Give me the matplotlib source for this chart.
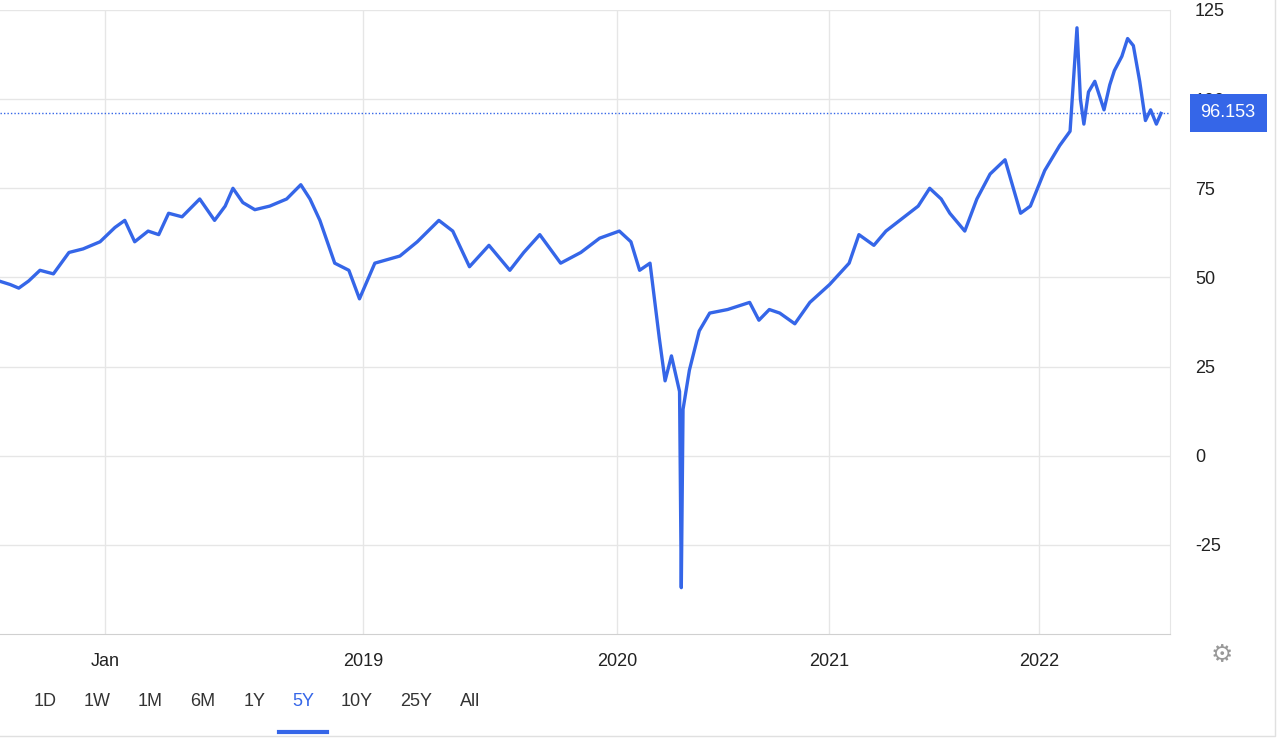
import numpy as np
import matplotlib
matplotlib.use("Agg")
import matplotlib.pyplot as plt
import matplotlib.dates as mdates
from datetime import datetime

plt.rcParams['font.family'] = ['Liberation Sans', 'DejaVu Sans']

# price series
dates = ["2017-08-04", "2017-08-20", "2017-09-01", "2017-09-15", "2017-10-01", "2017-10-20",
         "2017-11-11", "2017-12-01", "2017-12-25", "2018-01-15", "2018-01-29", "2018-02-12",
         "2018-03-03", "2018-03-18", "2018-04-01", "2018-04-20", "2018-05-15", "2018-06-05",
         "2018-06-20", "2018-07-01", "2018-07-15", "2018-08-01", "2018-08-22", "2018-09-15",
         "2018-10-05", "2018-10-18", "2018-11-01", "2018-11-22", "2018-12-12", "2018-12-27",
         "2019-01-18", "2019-02-23", "2019-03-20", "2019-04-20", "2019-05-10", "2019-06-03",
         "2019-07-01", "2019-07-31", "2019-08-20", "2019-09-12", "2019-10-12", "2019-11-10",
         "2019-12-07", "2020-01-05", "2020-01-25", "2020-02-09", "2020-02-27", "2020-03-14",
         "2020-03-24", "2020-04-04", "2020-04-18", "2020-04-21", "2020-04-24", "2020-05-05",
         "2020-05-22", "2020-06-09", "2020-07-10", "2020-08-17", "2020-09-02", "2020-09-20",
         "2020-10-08", "2020-11-03", "2020-11-29", "2021-01-02", "2021-02-05", "2021-02-22",
         "2021-03-20", "2021-04-10", "2021-05-04", "2021-06-05", "2021-06-25", "2021-07-15",
         "2021-07-30", "2021-08-25", "2021-09-15", "2021-10-08", "2021-11-03", "2021-11-30",
         "2021-12-17", "2022-01-11", "2022-02-06", "2022-02-24", "2022-03-08", "2022-03-14",
         "2022-03-20", "2022-03-28", "2022-04-08", "2022-04-24", "2022-05-04", "2022-05-12",
         "2022-05-25", "2022-06-04", "2022-06-14", "2022-06-25", "2022-07-05", "2022-07-14",
         "2022-07-24", "2022-08-01"]
prices = [49, 48, 47, 49, 52, 51,
          57, 58, 60, 64, 66, 60,
          63, 62, 68, 67, 72, 66,
          70, 75, 71, 69, 70, 72,
          76, 72, 66, 54, 52, 44,
          54, 56, 60, 66, 63, 53,
          59, 52, 57, 62, 54, 57,
          61, 63, 60, 52, 54, 33,
          21, 28, 18, -37, 13, 24,
          35, 40, 41, 43, 38, 41,
          40, 37, 43, 48, 54, 62,
          59, 63, 66, 70, 75, 72,
          68, 63, 72, 79, 83, 68,
          70, 80, 87, 91, 120, 100,
          93, 102, 105, 97, 104, 108,
          112, 117, 115, 105, 94, 97,
          93, 96]
last_price = 96.153

# tick years and their screen positions in the reference (uneven spacing)
tick_labels = ["Jan", "2019", "2020", "2021", "2022"]
tick_dates = ["2018-01-01", "2019-01-01", "2020-01-01", "2021-01-01", "2022-01-01"]
tick_px = [105, 363, 617, 829, 1039]

d = np.array([mdates.date2num(datetime.fromisoformat(s)) for s in dates])
td = np.array([mdates.date2num(datetime.fromisoformat(s)) for s in tick_dates])

def fwd(x):
    x = np.asarray(x, dtype=float)
    lo = tick_px[0] + (x - td[0]) * (tick_px[1] - tick_px[0]) / (td[1] - td[0])
    hi = tick_px[-1] + (x - td[-1]) * (tick_px[-1] - tick_px[-2]) / (td[-1] - td[-2])
    mid = np.interp(x, td, tick_px)
    return np.where(x < td[0], lo, np.where(x > td[-1], hi, mid))

def inv(p):
    p = np.asarray(p, dtype=float)
    lo = td[0] + (p - tick_px[0]) * (td[1] - td[0]) / (tick_px[1] - tick_px[0])
    hi = td[-1] + (p - tick_px[-1]) * (td[-1] - td[-2]) / (tick_px[-1] - tick_px[-2])
    mid = np.interp(p, tick_px, td)
    return np.where(p < tick_px[0], lo, np.where(p > tick_px[-1], hi, mid))

W, H = 1280, 740
fig = plt.figure(figsize=(W / 100, H / 100), dpi=100)
ax = fig.add_axes([0, 1 - 634 / H, 1170 / W, 624 / H])
ax.set_xscale("function", functions=(fwd, inv))
ax.plot(d, prices, color="#3566e8", lw=2.4, solid_joinstyle="round")
ax.set_xlim(inv(0), inv(1170))
ax.set_ylim(-50, 125)

ax.set_xticks(td)
ax.set_xticklabels(tick_labels, fontsize=13, color="#222222")
ax.set_yticks([-25, 0, 25, 50, 75, 100, 125])
ax.yaxis.tick_right()
ax.set_yticklabels(["-25", "0", "25", "50", "75", "100", "125"], fontsize=13, color="#222222")
ax.tick_params(axis="y", length=0, pad=18)
ax.tick_params(axis="x", length=0, pad=14)
ax.grid(True, color="#e6e6e6", lw=1)
for s in ["top", "left"]:
    ax.spines[s].set_visible(False)
ax.spines["right"].set_color("#e6e6e6")
ax.spines["bottom"].set_color("#d0d0d0")

# last price line and label
ax.axhline(last_price, color="#3566e8", lw=1, ls=(0, (1, 1.5)))
ax.annotate(f"{last_price}", xy=(1.0, last_price), xycoords=("axes fraction", "data"),
            xytext=(22, 0), textcoords="offset points", va="center", ha="left",
            fontsize=13, color="white", zorder=10, annotation_clip=False,
            bbox=dict(boxstyle="square,pad=0.6", fc="#3566e8", ec="none"))

# range buttons
buttons = ["1D", "1W", "1M", "6M", "1Y", "5Y", "10Y", "25Y", "All"]
btn_x = [45, 97, 150, 203, 255, 303, 357, 416, 470]
for b, x in zip(buttons, btn_x):
    fig.text(x / W, 1 - 702 / H, b, ha="center", va="center", fontsize=13,
             color="#3566e8" if b == "5Y" else "#333333")
fig.add_artist(plt.Line2D([279 / W, 327 / W], [1 - 732 / H] * 2, color="#3566e8", lw=3))
fig.text(1222 / W, 1 - 655 / H, "\u2699", ha="center", va="center", fontsize=18, color="#999999",
         family="DejaVu Sans")
fig.add_artist(plt.Line2D([0, 1275 / W, 1275 / W], [1 - 736 / H, 1 - 736 / H, 1], color="#e0e0e0", lw=1))

fig.savefig("out.png", dpi=100)
